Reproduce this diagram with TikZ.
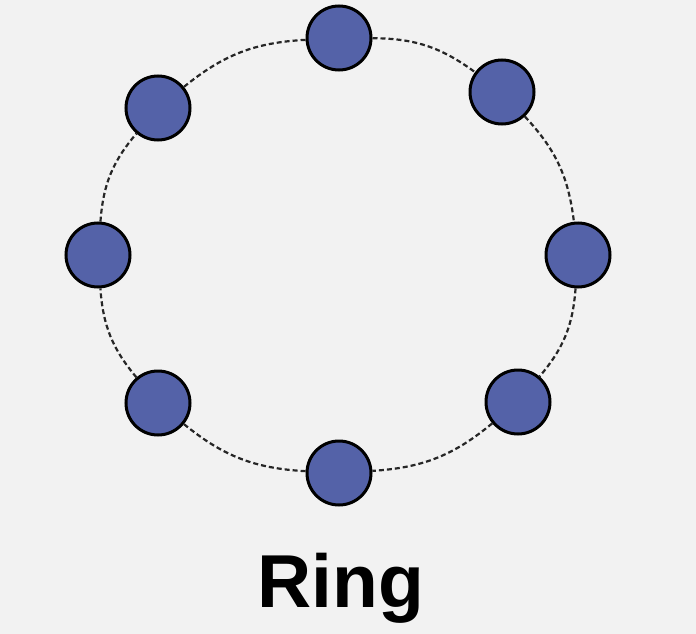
\documentclass[tikz,border=0pt]{standalone}
\usepackage{fontspec}
\setmainfont{Liberation Sans}
\definecolor{bgc}{RGB}{242,242,242}
\definecolor{nodeblue}{RGB}{84,98,168}
\begin{document}
\begin{tikzpicture}[x=1pt,y=-1pt,
  hostnode/.style={circle,draw=black,fill=nodeblue,line width=3pt,minimum size=64pt,inner sep=0pt},
  ringlink/.style={draw=black!85,line width=2.2pt,dash pattern=on 5pt off 3pt}]
\fill[bgc] (0,0) rectangle (696,634);
\useasboundingbox (0,0) rectangle (696,634);
\node[hostnode] (n1) at (339,38) {};
\node[hostnode] (n2) at (502,92) {};
\node[hostnode] (n3) at (578,255) {};
\node[hostnode] (n4) at (518,402) {};
\node[hostnode] (n5) at (339,473) {};
\node[hostnode] (n6) at (158,403) {};
\node[hostnode] (n7) at (98,255) {};
\node[hostnode] (n8) at (158,108) {};
\draw[ringlink] (n1) to[bend left=18] (n2);
\draw[ringlink] (n2) to[bend left=18] (n3);
\draw[ringlink] (n3) to[bend left=18] (n4);
\draw[ringlink] (n4) to[bend left=18] (n5);
\draw[ringlink] (n5) to[bend left=18] (n6);
\draw[ringlink] (n6) to[bend left=18] (n7);
\draw[ringlink] (n7) to[bend left=18] (n8);
\draw[ringlink] (n8) to[bend left=18] (n1);
\node[anchor=base,inner sep=0pt,font=\fontsize{75}{80}\selectfont\bfseries] (lbl) at (341,607) {Ring};
\end{tikzpicture}
\end{document}
